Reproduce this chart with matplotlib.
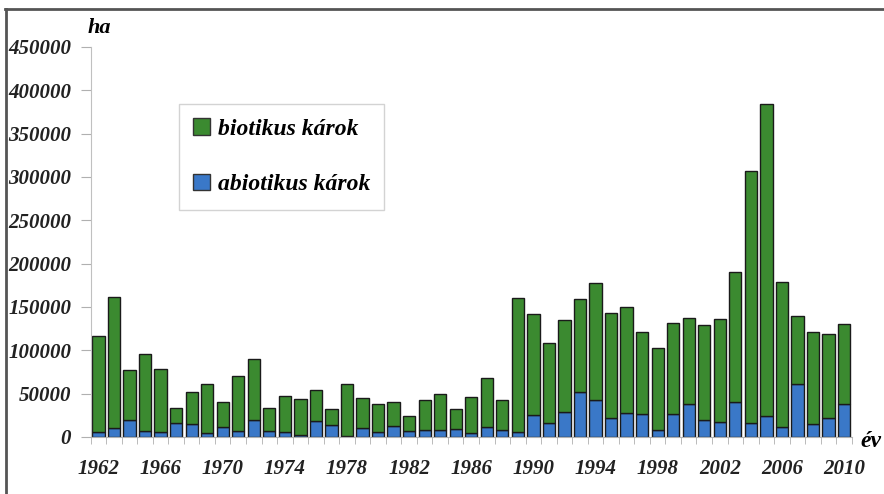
import matplotlib
matplotlib.use("Agg")
from matplotlib import pyplot as plt
from matplotlib.patches import Patch
from matplotlib.lines import Line2D

# adatok
evek = list(range(1962, 2011))
abiotikus = [5400, 10800, 19300, 7300, 6200, 15800, 15000, 4200, 11500, 7300,
             19600, 7300, 5800, 2700, 18100, 13500, 1500, 10800, 6200, 12700,
             6900, 7700, 8100, 9600, 4600, 11200, 8100, 5800, 25000, 16200,
             29300, 51600, 42700, 22000, 28100, 26900, 8100, 26200, 38100, 20000,
             17700, 40400, 16500, 24300, 11900, 60800, 15000, 22300, 38100]
osszes = [116800, 161400, 77000, 95900, 78900, 33900, 52000, 61600, 40000, 70100,
          90100, 33900, 47000, 43900, 54700, 32300, 61600, 44700, 37700, 40800,
          23900, 42700, 50000, 32300, 45800, 68500, 42700, 160900, 142000, 108200,
          135500, 159700, 177500, 143600, 150500, 120900, 102400, 131300, 137100, 129000,
          136300, 189800, 306400, 384600, 178700, 139800, 121600, 118600, 130500]
biotikus = [o - a for o, a in zip(osszes, abiotikus)]
felirat_evek = list(range(1962, 2011, 4))

zold = "#3b8a30"
kek = "#3a78c8"
betu = {"family": "Liberation Serif", "weight": "bold", "style": "italic"}

fig = plt.figure(figsize=(8.84, 4.94), dpi=100)
ax = fig.add_axes([0.1026, 0.1154, 0.861, 0.7895])

x = list(range(len(evek)))
ax.bar(x, abiotikus, width=0.79, color=kek, edgecolor="#1a1a1a", linewidth=1)
ax.bar(x, biotikus, bottom=abiotikus, width=0.79, color=zold, edgecolor="#1a1a1a", linewidth=1)

ax.set_xlim(-0.5, len(evek) - 0.5)
ax.set_ylim(0, 450000)
ax.set_yticks(range(0, 450001, 50000))
ax.set_yticklabels([str(v) for v in range(0, 450001, 50000)], fontdict=betu, fontsize=15, color="#222222")
ax.set_xticks([evek.index(e) for e in felirat_evek])
ax.set_xticklabels([str(e) for e in felirat_evek], fontdict=betu, fontsize=15, color="#222222")
ax.set_xticks([i - 0.5 for i in range(len(evek) + 1)], minor=True)
ax.tick_params(axis="x", which="major", length=0, pad=16)
ax.tick_params(axis="x", which="minor", length=5, color="#b0b0b0")
ax.tick_params(axis="y", length=7, color="#b0b0b0", pad=7)

for s in ["top", "right"]:
    ax.spines[s].set_visible(False)
ax.spines["left"].set_color("#c0c0c0")
ax.spines["bottom"].set_color("#b0b0b0")

ax.text(-0.004, 1.049, "ha", transform=ax.transAxes, fontdict=betu, fontsize=16,
        ha="left", va="center")
fig.text(0.985, 0.107, "év", fontdict=betu, fontsize=17, ha="center", va="center")

jel = [Patch(facecolor=zold, edgecolor="#333333", label="biotikus károk"),
       Patch(facecolor=kek, edgecolor="#333333", label="abiotikus károk")]
leg = ax.legend(handles=jel, loc="upper left", bbox_to_anchor=(0.116, 0.854), frameon=True,
                fancybox=False, edgecolor="#c8c8c8", handlelength=0.7, handleheight=0.7,
                handletextpad=0.35, labelspacing=1.45, borderpad=0.6, borderaxespad=0,
                prop={"family": "Liberation Serif", "weight": "bold", "style": "italic", "size": 17})
leg.get_frame().set_linewidth(1)

# kulso keret (csak bal es felso el)
fig.add_artist(Line2D([0.0068, 0.0068], [0, 0.981], transform=fig.transFigure, color="#555555", linewidth=2))
fig.add_artist(Line2D([0.0057, 1.0], [0.981, 0.981], transform=fig.transFigure, color="#555555", linewidth=2))

fig.savefig("out.png", dpi=100)
